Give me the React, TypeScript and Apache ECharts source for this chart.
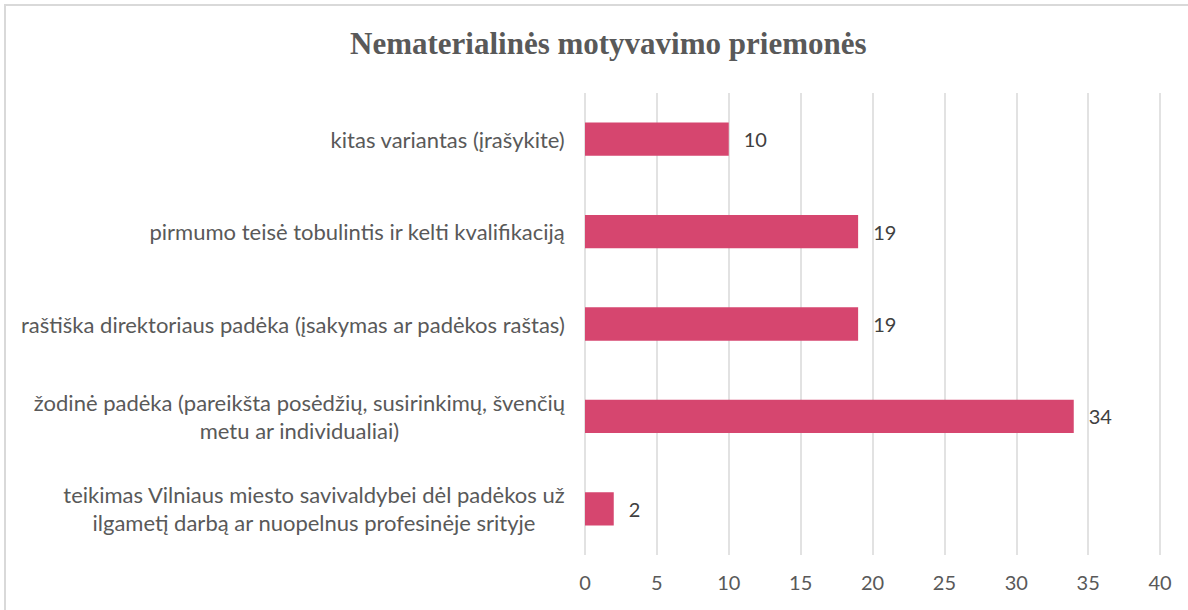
import React, { useEffect, useRef } from "react";
import * as echarts from "echarts";

const categories = [
  "teikimas Vilniaus miesto savivaldybei dėl padėkos už\nilgametį darbą ar nuopelnus profesinėje srityje",
  "žodinė padėka (pareikšta posėdžių, susirinkimų, švenčių\nmetu ar individualiai)",
  "raštiška direktoriaus padėka (įsakymas ar padėkos raštas)",
  "pirmumo teisė tobulintis ir kelti kvalifikaciją",
  "kitas variantas (įrašykite)",
];
const values = [2, 34, 19, 19, 10];
const xTicks = [0, 5, 10, 15, 20, 25, 30, 35, 40];
const title = "Nematerialinės motyvavimo priemonės";

export default function App() {
  const ref = useRef<HTMLDivElement>(null);
  useEffect(() => {
    const chart = echarts.init(ref.current!, null, { renderer: "svg" });
    const font = "Lato";
    chart.setOption({
      animation: false,
      backgroundColor: "#ffffff",
      title: {
        text: title,
        left: 345,
        top: 23,
        textStyle: {
          fontFamily: "Liberation Serif",
          fontWeight: "bold",
          fontSize: 31,
          color: "#595959",
        },
      },
      graphic: [
        {
          type: "rect",
          shape: { x: 5, y: 5, width: 1400, height: 800 },
          style: { fill: "none", stroke: "#d9d9d9", lineWidth: 2 },
          silent: true,
        },
      ],
      grid: { left: 585, right: 28, top: 93, bottom: 55, containLabel: false },
      xAxis: {
        type: "value",
        min: xTicks[0],
        max: xTicks[xTicks.length - 1],
        interval: 5,
        axisLine: { show: false },
        axisTick: { show: false },
        splitLine: { show: true, lineStyle: { color: "#d9d9d9", width: 1.5 } },
        axisLabel: {
          fontFamily: font,
          fontSize: 20,
          color: "#595959",
          margin: 17,
        },
      },
      yAxis: {
        type: "category",
        data: categories,
        axisLine: { show: false },
        axisTick: { show: false },
        splitLine: { show: false },
        axisLabel: {
          margin: 20,
          formatter: (v: string) =>
            v
              .split("\n")
              .map((l) => "{c|" + l + "}")
              .join("\n"),
          rich: {
            c: {
              align: "center",
              fontFamily: font,
              fontSize: 22,
              color: "#595959",
              lineHeight: 28,
            },
          },
        },
      },
      series: [
        {
          type: "bar",
          data: values,
          barWidth: "36%",
          itemStyle: { color: "#d6466f" },
          label: {
            show: true,
            position: "right",
            distance: 15,
            fontFamily: font,
            fontSize: 20,
            color: "#404040",
          },
        },
      ],
    });
    return () => chart.dispose();
  }, []);
  return (
    <div
      ref={ref}
      style={{ position: "fixed", left: 0, top: 0, width: 1188, height: 610 }}
    />
  );
}
